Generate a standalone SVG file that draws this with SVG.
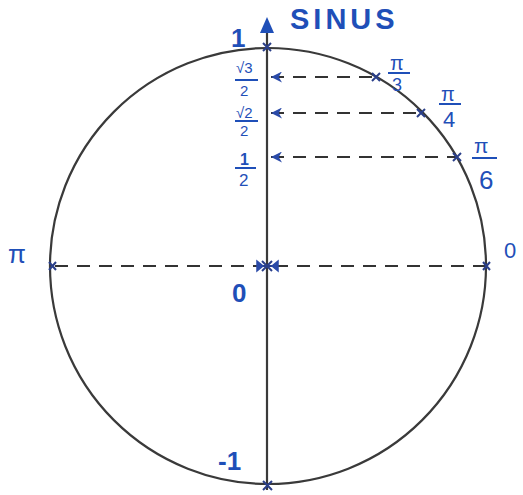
<svg xmlns="http://www.w3.org/2000/svg" width="523" height="495" viewBox="0 0 523 495">
<defs>
<style>
.ln{stroke:#3a3a3a;stroke-width:2.2;fill:none}
.ds{stroke:#333;stroke-width:2;stroke-dasharray:13 9;fill:none}
.t{font-family:"Liberation Sans",Arial,sans-serif;fill:#1f4fb8}
.b{font-weight:bold}
.x{stroke:#2a3f8a;stroke-width:2}
.fb{stroke:#1f4fb8;stroke-width:2}
</style>
<marker id="ah" viewBox="0 0 10 10" refX="0" refY="5" markerWidth="11" markerHeight="11" orient="auto" markerUnits="userSpaceOnUse">
<path d="M0,5 L10,0 L7,5 L10,10 Z" fill="#2a4aa8"/>
</marker>
</defs>
<rect width="523" height="495" fill="#fff"/>
<g id="circle"><circle cx="268" cy="266" r="218" class="ln"/></g>
<g id="axis">
<line x1="267" y1="490" x2="267" y2="30" class="ln"/>
<path d="M260,33 L267,17 L274,33 Z" fill="#1f4fb8"/>
</g>
<g id="connectors">
<line x1="271" y1="77" x2="376" y2="77" class="ds" marker-start="url(#ah)"/>
<line x1="271" y1="113" x2="421" y2="113" class="ds" marker-start="url(#ah)"/>
<line x1="271" y1="157" x2="457" y2="157" class="ds" marker-start="url(#ah)"/>
<line x1="55" y1="266" x2="486" y2="266" class="ds"/>
</g>
<g id="marks">
<path d="M372,73 l8,8 M372,81 l8,-8" class="x"/>
<path d="M417,109 l8,8 M417,117 l8,-8" class="x"/>
<path d="M453,153 l8,8 M453,161 l8,-8" class="x"/>
<path d="M49,262 l7,8 M49,270 l7,-8" class="x"/>
<path d="M483,262 l7,8 M483,270 l7,-8" class="x"/>
<path d="M262,261 l10,10 M262,271 l10,-10 M260,266 h14" class="x" stroke="#444"/>
<path d="M263,43 l8,8 M263,51 l8,-8" class="x"/>
<path d="M263,481 l9,9 M263,490 l9,-9" class="x"/>
<path d="M257,261 l6,5 l-6,5 Z M278,261 l-6,5 l6,5 Z" fill="#2a4aa8" stroke="#2a4aa8" stroke-width="1.5"/>
</g>
<g id="labels">
<text x="290" y="29" class="t b" font-size="29" letter-spacing="4">SINUS</text>
<text x="231" y="47" class="t b" font-size="26">1</text>
<text x="236" y="73" class="t" font-size="15">√3</text>
<line x1="235" y1="80" x2="258" y2="80" class="fb"/>
<text x="240" y="96" class="t" font-size="15">2</text>
<text x="236" y="118" class="t" font-size="15">√2</text>
<line x1="235" y1="121" x2="258" y2="121" class="fb"/>
<text x="240" y="136" class="t" font-size="15">2</text>
<text x="240" y="165" class="t b" font-size="16">1</text>
<line x1="235" y1="168" x2="256" y2="168" class="fb"/>
<text x="239" y="186" class="t" font-size="17">2</text>
<text x="390" y="70" class="t" font-size="20">π</text>
<line x1="388" y1="73" x2="410" y2="73" class="fb"/>
<text x="392" y="91" class="t" font-size="18">3</text>
<text x="441" y="101" class="t" font-size="20">π</text>
<line x1="439" y1="104" x2="461" y2="104" class="fb"/>
<text x="443" y="127" class="t" font-size="22">4</text>
<text x="474" y="153" class="t" font-size="21">π</text>
<line x1="472" y1="158" x2="497" y2="158" class="fb"/>
<text x="479" y="189" class="t" font-size="26">6</text>
<text x="8" y="263" class="t" font-size="26">π</text>
<text x="504" y="258" class="t" font-size="22">0</text>
<text x="232" y="302" class="t b" font-size="26">0</text>
<text x="218" y="470" class="t b" font-size="26">-1</text>
</g>
</svg>
